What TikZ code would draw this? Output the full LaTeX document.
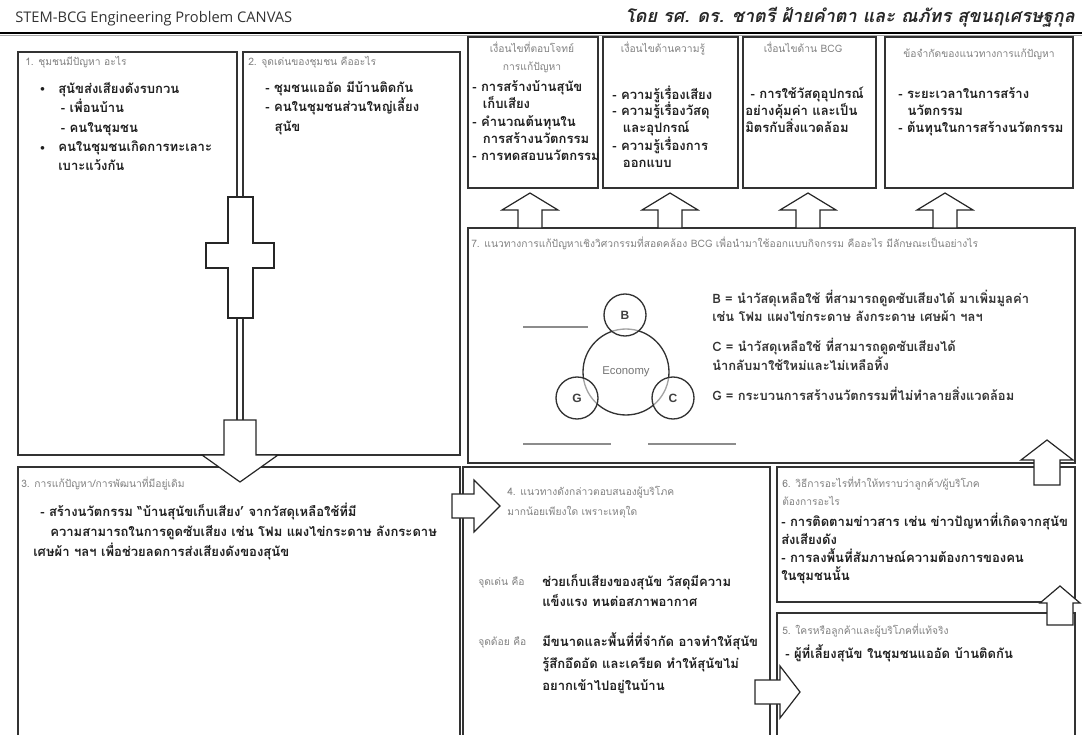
\documentclass[tikz,border=0pt]{standalone}
\usepackage{fontspec}
\setmainfont{Open Sans}
\newfontfamily\thaifont[Script=Thai]{Loma}
\newfontfamily\arialfont{Liberation Sans}
\newcommand\BlockUp[6]{%
  \draw[blk] (#1,#2) -- ({#1+#5},#3) -- ({#1+#6},#3) -- ({#1+#6},#4) -- ({#1-#6},#4) -- ({#1-#6},#3) -- ({#1-#5},#3) -- cycle;}
\newcommand\BlockDown[6]{%
  \draw[blk] (#1,#2) -- ({#1+#5},#3) -- ({#1+#6},#3) -- ({#1+#6},#4) -- ({#1-#6},#4) -- ({#1-#6},#3) -- ({#1-#5},#3) -- cycle;}
\newcommand\BlockRight[6]{%
  \draw[blk] (#2,#1) -- (#3,{#1-#5}) -- (#3,{#1-#6}) -- (#4,{#1-#6}) -- (#4,{#1+#6}) -- (#3,{#1+#6}) -- (#3,{#1+#5}) -- cycle;}
\tikzset{
  panel/.style={draw=black!80, line width=1.1pt},
  blk/.style={draw=black!85, line width=0.9pt, fill=white, line join=miter},
  ttl/.style={text=black!50, font=\thaifont\fontsize{7.7}{13.5}\selectfont, inner sep=0pt, anchor=base west, align=left},
  body/.style={text=black!88, font=\thaifont\bfseries\fontsize{9.8}{14.5}\selectfont, inner sep=0pt, anchor=base west, align=left},
  leg/.style={text=black!80, font=\thaifont\bfseries\fontsize{9.7}{13.5}\selectfont, inner sep=0pt, anchor=base west, align=left},
  circ/.style={draw=black!80, line width=1pt},
  gline/.style={draw=black!45, line width=1.2pt},
}
\begin{document}
\begin{tikzpicture}[x=0.75pt,y=-0.75pt]
\useasboundingbox (0,0) rectangle (1082,735);
% header
\node[anchor=base west, inner sep=0pt, text=black!80, font=\fontsize{11}{13}\selectfont] (hl) at (15,23) {STEM-BCG Engineering Problem CANVAS};
\node[anchor=base east, inner sep=0pt, text=black!85, font=\thaifont\bfseries\itshape\fontsize{13.5}{15}\selectfont] (hr) at (1075,23) {โดย รศ. ดร. ชาตรี ฝ้ายคำตา และ ณภัทร สุขนฤเศรษฐกุล};
\draw[line width=1.8pt, black] (0,33) -- (1082,33);
\draw[line width=0.6pt, black!35] (0,35.8) -- (1082,35.8);
% panels
\draw[panel] (18,52) rectangle (237,455);
\draw[panel] (243,52) rectangle (460,455);
\draw[panel] (468,37) rectangle (598,188);
\draw[panel] (603,37) rectangle (738,188);
\draw[panel] (743,37) rectangle (876,188);
\draw[panel] (885,37) rectangle (1073,188);
\draw[panel] (468,228) rectangle (1075,463);
\draw[panel] (18,467) rectangle (460,745);
\draw[panel] (463,467) rectangle (770,745);
\draw[panel] (777,467) rectangle (1075,602);
\draw[panel] (777,613) rectangle (1075,745);
% box 1
\node[ttl] (t1) at (25,65.5) {1. ชุมชนมีปัญหา อะไร};
\node[body, font=\arialfont\bfseries\fontsize{9.5}{14.5}\selectfont] (b1a) at (40,93.5) {•};
\node[body, font=\arialfont\bfseries\fontsize{9.5}{14.5}\selectfont] (b1b) at (40,152.5) {•};
\node[body] (c1) at (58,170.8) {สุนัขส่งเสียงดังรบกวน\\\hspace*{2pt}- เพื่อนบ้าน\\\hspace*{2pt}- คนในชุมชน\\คนในชุมชนเกิดการทะเลาะ\\เบาะแว้งกัน};
% box 2
\node[ttl] (t2) at (248,65.5) {2. จุดเด่นของชุมชน คืออะไร};
\node[body] (c2) at (265,131.2) {- ชุมชนแออัด มีบ้านติดกัน\\- คนในชุมชนส่วนใหญ่เลี้ยง\\\hspace*{7pt}สุนัข};
% top boxes
\node[ttl, anchor=base, align=center] (tA) at (532,70.5) {เงื่อนไขที่ตอบโจทย์\\การแก้ปัญหา};
\node[body, font=\thaifont\bfseries\fontsize{9.8}{13}\selectfont] (cA) at (472,160.8) {- การสร้างบ้านสุนัข\\\hspace*{8pt}เก็บเสียง\\- คำนวณต้นทุนใน\\\hspace*{8pt}การสร้างนวัตกรรม\\- การทดสอบนวัตกรรม};
\node[ttl, anchor=base] (tB) at (663,52.5) {เงื่อนไขด้านความรู้};
\node[body, font=\thaifont\bfseries\fontsize{9.8}{12.5}\selectfont] (cB) at (612,167.2) {- ความรู้เรื่องเสียง\\- ความรู้เรื่องวัสดุ\\\hspace*{8pt}และอุปกรณ์\\- ความรู้เรื่องการ\\\hspace*{8pt}ออกแบบ};
\node[ttl, anchor=base] (tC) at (803,52.5) {เงื่อนไขด้าน BCG};
\node[body, font=\thaifont\bfseries\fontsize{9.8}{12.75}\selectfont] (cC) at (745,132.5) {\hspace*{4pt}- การใช้วัสดุอุปกรณ์\\อย่างคุ้มค่า และเป็น\\มิตรกับสิ่งแวดล้อม};
\node[ttl, anchor=base] (tD) at (979,57.5) {ข้อจำกัดของแนวทางการแก้ปัญหา};
\node[body, font=\thaifont\bfseries\fontsize{9.8}{12.75}\selectfont] (cD) at (898,132.5) {- ระยะเวลาในการสร้าง\\\hspace*{7pt}นวัตกรรม\\- ต้นทุนในการสร้างนวัตกรรม};
% box 7
\node[ttl] (t7) at (471,247.5) {7. แนวทางการแก้ปัญหาเชิงวิศวกรรมที่สอดคล้อง BCG เพื่อนำมาใช้ออกแบบกิจกรรม คืออะไร มีลักษณะเป็นอย่างไร};
\draw[gline] (523,327) -- (588,327);
\draw[gline] (523,444) -- (611,444);
\draw[gline] (648,444) -- (736,444);
\node[circle, circ, minimum size=86*0.75pt, inner sep=0pt, text=black!55, font=\arialfont\fontsize{8.5}{10}\selectfont] (eco) at (626,372) {Economy};
\node[circle, circ, fill=white, fill opacity=0.55, text opacity=1, minimum size=42*0.75pt, inner sep=0pt, text=black!75, font=\arialfont\bfseries\fontsize{9}{10}\selectfont] (cb) at (625,315) {B};
\node[circle, circ, fill=white, fill opacity=0.55, text opacity=1, minimum size=42*0.75pt, inner sep=0pt, text=black!75, font=\arialfont\bfseries\fontsize{9}{10}\selectfont] (cg) at (577,398) {G};
\node[circle, circ, fill=white, fill opacity=0.55, text opacity=1, minimum size=42*0.75pt, inner sep=0pt, text=black!75, font=\arialfont\bfseries\fontsize{9}{10}\selectfont] (cc) at (673,398) {C};
\node[leg] (lB) at (712,321.5) {B = นำวัสดุเหลือใช้ ที่สามารถดูดซับเสียงได้ มาเพิ่มมูลค่า\\เช่น โฟม แผงไข่กระดาษ ลังกระดาษ เศษผ้า ฯลฯ};
\node[leg, font=\thaifont\bfseries\fontsize{9.7}{14.25}\selectfont] (lC) at (712,370.5) {C = นำวัสดุเหลือใช้ ที่สามารถดูดซับเสียงได้\\นำกลับมาใช้ใหม่และไม่เหลือทิ้ง};
\node[leg] (lG) at (712,400.5) {G = กระบวนการสร้างนวัตกรรมที่ไม่ทำลายสิ่งแวดล้อม};
% box 3
\node[ttl] (t3) at (21,487.5) {3. การแก้ปัญหา/การพัฒนาที่มีอยู่เดิม};
\node[body, font=\thaifont\bfseries\fontsize{9.8}{15}\selectfont] (c3) at (33,556.5) {\hspace*{5.25pt}- สร้างนวัตกรรม “บ้านสุนัขเก็บเสียง’ จากวัสดุเหลือใช้ที่มี\\\hspace*{12.75pt}ความสามารถในการดูดซับเสียง เช่น โฟม แผงไข่กระดาษ ลังกระดาษ\\เศษผ้า ฯลฯ เพื่อช่วยลดการส่งเสียงดังของสุนัข};
% box 4
\node[ttl, font=\thaifont\fontsize{7.7}{15}\selectfont] (t4) at (507,515.5) {4. แนวทางดังกล่าวตอบสนองผู้บริโภค\\มากน้อยเพียงใด เพราะเหตุใด};
\node[ttl] (s4a) at (478,585.5) {จุดเด่น คือ};
\node[body, font=\thaifont\bfseries\fontsize{9.8}{15}\selectfont] (c4a) at (542,606.5) {ช่วยเก็บเสียงของสุนัข วัสดุมีความ\\แข็งแรง ทนต่อสภาพอากาศ};
\node[ttl] (s4b) at (478,645.5) {จุดด้อย คือ};
\node[body, font=\thaifont\bfseries\fontsize{9.8}{16.5}\selectfont] (c4b) at (542,690.5) {มีขนาดและพื้นที่ที่จำกัด อาจทำให้สุนัข\\รู้สึกอึดอัด และเครียด ทำให้สุนัขไม่\\อยากเข้าไปอยู่ในบ้าน};
% box 6
\node[ttl] (t6) at (782,505.5) {6. วิธีการอะไรที่ทำให้ทราบว่าลูกค้า/ผู้บริโภค\\ต้องการอะไร};
\node[body, font=\thaifont\bfseries\fontsize{9.8}{13.5}\selectfont] (c6) at (781,580.5) {- การติดตามข่าวสาร เช่น ข่าวปัญหาที่เกิดจากสุนัข\\ส่งเสียงดัง\\- การลงพื้นที่สัมภาษณ์ความต้องการของคน\\ในชุมชนนั้น};
% box 5
\node[ttl] (t5) at (782,634.5) {5. ใครหรือลูกค้าและผู้บริโภคที่แท้จริง};
\node[body] (c5) at (785,658.5) {- ผู้ที่เลี้ยงสุนัข ในชุมชนแออัด บ้านติดกัน};
% block arrows
\draw[blk] (228,197) -- (253,197) -- (253,243) -- (274,243) -- (274,268) -- (253,268) -- (253,318) -- (228,318) -- (228,268) -- (206,268) -- (206,243) -- (228,243) -- cycle;
\BlockDown{240}{482}{455}{420}{38}{16}
\BlockUp{530}{193}{210}{228}{28}{12}
\BlockUp{670}{193}{210}{228}{28}{12}
\BlockUp{808}{193}{210}{228}{28}{12}
\BlockUp{945}{193}{210}{228}{28}{12}
\BlockRight{506}{500}{474}{452}{26}{12}
\BlockUp{1047}{440}{460}{485}{26}{13}
\BlockUp{1060}{586}{603}{625}{20}{13}
\BlockRight{692}{800}{780}{755}{26}{12}
\end{tikzpicture}
\end{document}
